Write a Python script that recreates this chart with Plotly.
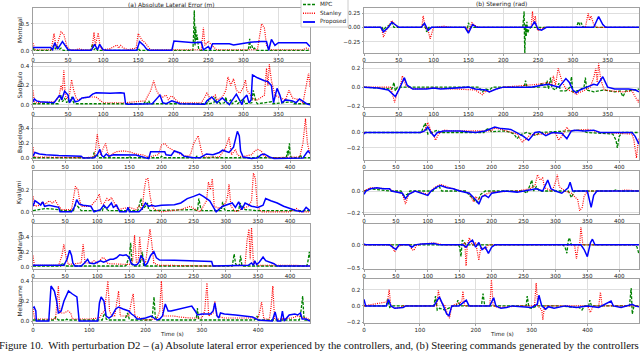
import plotly.graph_objects as go

# ---------------- data: (time s, value) samples ----------------
TRACKS = ["Montreal", "SaoPaulo", "Barcelona", "Kyalami", "YasMarina", "Melbourne"]
SERIES = ["MPC", "Stanley", "Proposed"]

# Montreal
MON_ERR_MPC = [(0,.05),(2,.01),(25,.01),(28,.06),(30,.1),(32,.03),(35,.08),(37,.02),(40,.05),(43,.01),(82,.01),(85,.13),(87,.02),(90,.06),(92,.01),(148,.01),(150,.05),(152,.01),(228,.01),(229,.3),(230,.75),(231,.1),(232,.45),(233,.2),(234,.3),(236,.05),(238,.01),(307,.01),(309,.22),(310,.05),(312,.1),(314,.03),(316,.05),(318,.01),(395,.01)]
MON_ERR_STAN = [(0,.14),(3,.02),(26,.02),(30,.32),(33,.05),(37,.2),(40,.35),(44,.3),(48,.1),(52,.02),(62,.02),(65,.04),(70,.02),(84,.02),(87,.34),(89,.1),(93,.33),(96,.05),(100,.02),(110,.04),(115,.08),(120,.11),(122,.05),(125,.1),(128,.06),(135,.02),(147,.05),(150,.32),(155,.2),(160,.15),(165,.06),(168,.02),(240,.02),(243,.43),(245,.1),(250,.18),(255,.1),(262,.02),(320,.02),(323,.3),(326,.5),(330,.42),(333,.1),(336,.05),(340,.02),(385,.02),(390,.05),(395,.02)]
MON_ERR_PROP = [(0,.06),(25,.06),(28,.02),(31,.15),(35,.03),(42,.17),(50,.02),(55,.01),(83,.01),(88,.12),(92,.02),(95,.12),(100,.02),(105,.01),(148,.01),(152,.17),(158,.1),(162,.03),(166,.01),(198,.01),(201,.18),(215,.17),(230,.15),(240,.16),(243,.02),(250,.08),(253,.02),(256,.13),(280,.13),(286,.11),(300,.14),(310,.16),(325,.17),(333,.17),(336,.01),(340,.21),(345,.1),(350,.15),(390,.15),(395,.08)]
MON_STR_MPC = [(0,0),(26,0),(28,-.05),(31,0),(38,.05),(40,.08),(43,0),(83,0),(85,.06),(88,0),(90,-.08),(93,0),(146,0),(148,-.06),(150,.08),(153,0),(228,0),(229,.1),(230,.28),(230.5,-.2),(231,-.47),(232,.05),(233,-.15),(234,.1),(235,-.1),(237,-.03),(240,0),(305,0),(307,.08),(308,.1),(310,.04),(312,.08),(314,.02),(316,0),(395,0)]
MON_STR_STAN = [(0,0),(25,0),(28,-.17),(32,-.05),(40,.12),(46,.03),(50,0),(83,0),(85,.2),(88,0),(92,-.05),(95,-.2),(100,0),(115,.02),(125,0),(147,0),(150,-.08),(155,.08),(160,.03),(165,0),(240,0),(242,.28),(244,.05),(246,.2),(248,-.02),(250,-.06),(255,-.02),(260,0),(318,0),(322,.25),(324,.12),(326,.2),(330,.05),(335,0),(395,0)]
MON_STR_PROP = [(0,0),(24,0),(28,-.08),(35,0),(40,.09),(45,.05),(50,0),(82,0),(87,.07),(92,-.05),(97,0),(145,0),(150,-.1),(156,.05),(162,0),(240,0),(245,.1),(250,-.03),(255,-.05),(262,0),(330,0),(337,.19),(343,.05),(347,0),(395,0)]

# SaoPaulo
SAO_ERR_MPC = [(0,.01),(36,.01),(40,.1),(42,.03),(45,.07),(48,.02),(50,.05),(53,.02),(55,.08),(58,.02),(60,.01),(158,.01),(160,.03),(163,.01),(165,.04),(167,.01),(248,.01),(250,.05),(252,.01),(258,.02),(260,.08),(262,.01),(265,.04),(267,.01),(273,.02),(275,.08),(277,.01),(282,.05),(284,.01),(290,.04),(292,.01),(300,.06),(302,.01),(312,.02),(314,.15),(316,.1),(318,.03),(320,.01),(340,.03),(342,.01),(370,.03),(372,.01),(395,.01)]
SAO_ERR_STAN = [(0,.15),(2,.03),(5,.02),(30,.03),(37,.08),(40,.2),(42,.15),(44,.36),(46,.1),(48,.06),(52,.1),(55,.26),(58,.15),(62,.06),(65,.05),(70,.07),(80,.08),(90,.08),(95,.05),(100,.02),(130,.02),(160,.04),(168,.15),(172,.25),(176,.15),(180,.1),(185,.08),(190,.1),(193,.05),(197,.09),(200,.08),(205,.04),(210,.02),(240,.02),(245,.08),(248,.12),(253,.06),(260,.1),(262,.05),(270,.08),(275,.15),(278,.29),(282,.2),(286,.27),(290,.15),(295,.12),(300,.18),(303,.26),(305,.15),(310,.1),(315,.05),(320,.05),(330,.1),(333,.38),(335,.2),(337,.42),(340,.25),(345,.1),(350,.08),(360,.05),(365,.15),(370,.07),(380,.05),(385,.02),(390,.22),(393,.33),(395,.18)]
SAO_ERR_PROP = [(0,.03),(2,.06),(5,.04),(10,.03),(30,.02),(38,.1),(41,.05),(45,.14),(50,.1),(52,.02),(57,.08),(60,.03),(65,.04),(70,.07),(80,.08),(85,.11),(90,.125),(110,.12),(125,.125),(130,.12),(132,.01),(135,.005),(170,.01),(175,.05),(181,.1),(185,.02),(190,.01),(198,.04),(205,.02),(210,.01),(245,.005),(248,.04),(255,.08),(262,.02),(270,.07),(275,.03),(280,0),(290,.11),(295,.04),(298,0),(300,.06),(305,.1),(308,.02),(311,.05),(313,.31),(320,.28),(330,.25),(335,.24),(340,.2),(343,.02),(348,.17),(352,.1),(355,.02),(360,.05),(370,.04),(375,.02),(380,.06),(385,.03),(390,.01),(395,0)]
SAO_STR_MPC = [(0,0),(40,-.02),(43,.05),(45,-.04),(48,0),(165,0),(170,-.05),(175,-.02),(180,-.03),(185,0),(230,0),(232,.07),(234,0),(253,0),(255,.05),(257,0),(261,0),(263,.07),(265,-.02),(268,.1),(270,-.01),(275,-.03),(280,.04),(282,-.04),(290,-.04),(296,0),(298,.11),(300,-.05),(310,-.03),(316,0),(318,.1),(320,-.03),(330,-.05),(345,-.03),(360,-.05),(368,-.04),(372,-.1),(376,-.04),(380,-.04),(395,-.02)]
SAO_STR_STAN = [(0,0),(38,0),(40,-.05),(44,-.16),(48,-.05),(52,0),(55,.12),(60,.02),(70,-.02),(100,-.01),(160,-.03),(170,-.08),(175,-.04),(180,-.05),(190,-.02),(200,0),(250,.03),(265,.05),(270,.02),(272,.12),(275,.02),(279,.2),(282,.12),(285,.05),(290,-.02),(300,-.05),(305,-.08),(308,-.06),(315,-.04),(325,0),(330,.1),(333,.2),(335,.05),(337,.25),(340,.08),(345,-.03),(355,-.04),(370,-.05),(385,-.04),(390,-.1),(394,-.16),(395,-.12)]
SAO_STR_PROP = [(0,0),(20,-.01),(35,-.03),(45,-.1),(50,-.03),(55,.05),(58,.1),(62,.02),(70,-.02),(90,-.02),(100,-.01),(110,-.02),(150,0),(160,-.02),(175,-.03),(180,-.05),(190,-.02),(200,0),(240,0),(255,.02),(265,.03),(280,0),(290,.09),(295,.05),(300,-.03),(305,-.06),(310,-.03),(320,0),(330,.03),(335,.02),(343,.11),(350,0),(360,-.02),(380,-.02),(390,-.03),(395,-.05)]

# Barcelona
BAR_ERR_MPC = [(0,.01),(93,.01),(95,.08),(97,.02),(100,.05),(102,.01),(148,.01),(150,.03),(152,.01),(198,.01),(200,.03),(202,.01),(253,.01),(255,.03),(257,.01),(278,.01),(280,.02),(282,.01),(348,.01),(350,.03),(352,.01),(394,.01),(396,.1),(397,.04),(399,.2),(400,.05),(402,.01),(414,.01),(416,.05),(418,.01),(431,.01)]
BAR_ERR_STAN = [(0,.15),(2,.02),(80,.01),(95,.02),(97,.1),(100,.32),(102,.2),(105,.05),(110,.15),(113,.2),(116,.08),(120,.03),(125,.07),(130,.09),(140,.1),(150,.09),(160,.06),(170,.05),(180,.02),(195,.05),(200,.18),(205,.2),(210,.15),(215,.12),(220,.1),(225,.08),(230,.05),(240,.03),(245,.05),(250,.2),(257,.3),(262,.1),(265,.02),(290,.02),(300,.15),(305,.28),(309,.05),(315,.12),(318,.05),(325,.02),(340,.05),(345,.1),(350,.12),(355,.1),(360,.03),(370,.01),(415,.02),(420,.2),(424,.53),(427,.2),(431,.05)]
BAR_ERR_PROP = [(0,.03),(3,.08),(10,.06),(20,.05),(40,.04),(60,.035),(75,.03),(78,.005),(95,.01),(100,.05),(104,.12),(107,.04),(110,.02),(114,.06),(118,.03),(125,.05),(140,.05),(160,.045),(175,.01),(180,0),(183,.09),(205,.09),(207,.05),(215,.04),(220,.1),(225,.08),(230,.07),(235,.03),(250,.01),(260,.01),(265,.04),(270,.06),(280,.05),(290,.08),(295,.11),(300,.1),(305,.08),(312,.15),(318,.36),(321,.3),(323,.1),(327,.02),(340,0),(350,.01),(355,.05),(360,.06),(368,.02),(375,0),(420,.005),(426,.08),(428,.1),(431,.07)]
BAR_STR_MPC = [(0,0),(90,0),(92,.05),(96,.12),(100,-.02),(105,0),(115,.03),(120,0),(188,0),(190,.03),(195,.05),(200,.01),(220,.02),(230,0),(235,-.02),(240,-.08),(245,-.03),(255,0),(270,-.04),(275,0),(300,.01),(340,.03),(350,0),(390,-.02),(395,-.1),(397,-.2),(400,-.05),(405,0),(431,0)]
BAR_STR_STAN = [(0,0),(92,0),(95,.03),(100,.13),(105,.02),(110,-.05),(112,-.1),(117,-.02),(125,.03),(140,.02),(200,.02),(205,.06),(215,.04),(230,0),(240,-.02),(248,-.12),(255,-.08),(260,-.03),(280,-.02),(300,0),(305,-.1),(310,-.05),(318,.07),(322,.02),(345,.03),(350,.04),(370,0),(420,-.02),(423,-.1),(427,-.33),(430,-.1),(431,-.08)]
BAR_STR_PROP = [(0,-.02),(2,0),(88,0),(95,.02),(100,.07),(105,0),(110,-.05),(115,0),(125,.02),(150,.02),(175,0),(190,.02),(205,.07),(215,.05),(230,.04),(240,0),(250,-.05),(258,-.1),(262,-.06),(268,0),(275,.01),(285,-.04),(295,0),(310,-.01),(318,-.08),(325,.02),(330,.03),(345,.02),(360,.03),(370,0),(420,0),(425,-.05),(431,-.15)]

# Kyalami
KYA_ERR_MPC = [(0,.01),(10,.02),(20,.03),(40,.02),(45,.01),(63,.01),(65,.06),(68,.06),(72,.03),(75,.01),(108,.01),(110,.05),(115,.02),(118,.01),(148,.01),(150,.02),(152,.01),(163,.01),(165,.05),(168,.12),(170,.02),(175,.05),(178,.08),(180,.02),(183,.01),(250,.02),(256,.01),(258,.12),(261,.03),(263,.01),(293,.01),(295,.09),(298,.02),(300,.01),(320,.01),(322,.08),(325,.05),(330,.02),(350,.01),(431,.01)]
KYA_ERR_STAN = [(0,.14),(3,.05),(10,.06),(15,.09),(20,.07),(25,.1),(30,.08),(35,.1),(40,.05),(45,.02),(60,.02),(63,.15),(66,.23),(70,.2),(72,.12),(75,.05),(85,.05),(90,.05),(100,.12),(103,.16),(106,.08),(110,.07),(115,.12),(118,.1),(122,.13),(126,.08),(132,.02),(140,.03),(150,.04),(160,.02),(165,.05),(170,.02),(173,.2),(176,.3),(179,.3),(182,.15),(185,.05),(190,.02),(200,0),(230,.02),(240,.04),(245,.05),(250,.03),(260,0),(270,.1),(273,.27),(276,.2),(279,.3),(282,.05),(290,.03),(300,.08),(303,.15),(305,.25),(308,.05),(315,0),(335,.05),(340,.1),(343,.35),(346,.3),(349,.05),(355,0),(400,0),(410,.03),(415,0),(431,0)]
KYA_ERR_PROP = [(0,.05),(3,.1),(8,.08),(12,.06),(15,.09),(18,.05),(25,.06),(35,.05),(40,.04),(42,0),(60,0),(65,.05),(68,.11),(72,.07),(78,.06),(90,.05),(95,0),(105,.02),(110,.06),(115,.03),(122,.08),(125,.04),(130,.06),(135,0),(145,0),(148,.04),(150,0),(165,0),(170,.03),(175,.08),(180,.05),(185,.06),(190,.05),(200,.06),(220,.065),(230,.08),(240,.12),(250,.14),(259,.16),(265,.14),(275,.1),(280,.05),(285,0),(295,.05),(305,.07),(310,.08),(315,.04),(320,.09),(325,.02),(330,.08),(340,.05),(350,.04),(358,.06),(362,.12),(370,.1),(380,.08),(390,.05),(400,.03),(410,.01),(420,0),(425,.04),(431,.01)]
KYA_STR_MPC = [(0,0),(10,.02),(40,0),(58,0),(62,-.04),(68,-.03),(72,0),(108,0),(110,.02),(118,.04),(122,0),(160,0),(165,-.04),(170,-.06),(175,-.1),(178,-.1),(183,-.03),(190,0),(250,0),(255,-.02),(260,.05),(263,.1),(266,0),(270,.04),(275,0),(280,0),(320,0),(322,-.02),(325,-.06),(330,0),(390,0),(395,.01),(400,0),(431,0)]
KYA_STR_STAN = [(0,0),(10,.03),(40,.02),(45,0),(60,-.02),(65,-.12),(70,-.03),(80,0),(100,-.03),(110,.03),(120,.06),(140,.02),(165,-.02),(172,-.1),(175,-.05),(180,-.08),(185,-.05),(190,-.03),(200,-.01),(240,0),(260,.02),(268,.05),(272,.15),(276,.1),(280,.12),(283,.03),(295,0),(300,.08),(303,.15),(306,.04),(315,0),(325,-.02),(330,-.05),(335,-.08),(338,-.18),(342,-.15),(345,-.05),(350,0),(400,0),(410,.01),(431,0)]
KYA_STR_PROP = [(0,-.03),(3,0),(10,.02),(20,.03),(30,.02),(40,.02),(43,0),(60,-.02),(65,-.07),(70,-.03),(80,0),(95,-.03),(100,-.04),(105,0),(115,.04),(120,.05),(130,.03),(140,.02),(150,0),(165,-.02),(175,-.08),(180,-.12),(185,-.05),(190,-.04),(195,-.06),(200,-.02),(220,0),(240,-.01),(250,0),(260,.01),(270,.02),(280,0),(288,.1),(293,.02),(300,0),(310,-.02),(320,.03),(323,.08),(327,0),(350,0),(356,-.15),(360,-.04),(365,0),(431,0)]

# YasMarina
YAS_ERR_MPC = [(0,.01),(43,.01),(45,.05),(48,.03),(50,.01),(143,.01),(145,.02),(150,.15),(152,.32),(154,.03),(156,.01),(166,.01),(168,.1),(170,.2),(172,.02),(174,.01),(310,.01),(313,.17),(315,.05),(317,.01),(321,.02),(323,.15),(325,.02),(327,.01),(426,.01),(428,.08),(430,.2),(431,.1)]
YAS_ERR_STAN = [(0,.15),(2,.02),(40,.02),(45,.15),(48,.3),(51,.15),(55,.03),(75,.05),(78,.3),(81,.05),(90,.05),(95,.08),(100,.05),(105,.1),(108,.12),(112,.11),(115,.05),(120,.04),(140,.04),(150,.03),(155,.08),(158,.42),(161,.05),(164,.1),(166,.4),(169,.1),(175,.05),(179,.35),(182,.5),(185,.3),(188,.05),(195,.02),(280,.01),(330,.02),(333,.35),(336,.5),(338,.1),(340,.52),(343,.05),(350,.02),(380,.02),(400,.03),(405,.02),(431,.01)]
YAS_ERR_PROP = [(0,.02),(10,.02),(40,.01),(48,.02),(53,.1),(57,.22),(60,.15),(62,.05),(65,.01),(75,.01),(80,.05),(85,.1),(88,.05),(95,.04),(100,.06),(105,.08),(110,.06),(115,.08),(120,.1),(125,.1),(130,.12),(135,.16),(140,.15),(145,.16),(150,.12),(153,.04),(158,.02),(162,.03),(165,.06),(168,.15),(172,.1),(174,.01),(178,.05),(183,.15),(188,.2),(192,.12),(197,.09),(220,.085),(250,.08),(270,.075),(278,.07),(280,.01),(290,.01),(335,.02),(340,.05),(343,.02),(345,.08),(348,.03),(352,.06),(358,.13),(362,.08),(370,.05),(375,.04),(380,.01),(431,.01)]
YAS_STR_MPC = [(0,0),(148,0),(150,-.05),(152,-.25),(154,.1),(156,.08),(160,0),(312,0),(315,-.05),(318,-.18),(320,.08),(322,.15),(325,0),(425,0),(428,-.05),(431,-.2)]
YAS_STR_STAN = [(0,0),(43,0),(45,-.05),(48,-.15),(52,-.05),(60,0),(72,0),(75,-.1),(78,-.12),(82,-.02),(90,.02),(110,.04),(118,.02),(125,0),(155,0),(158,.05),(160,-.45),(162,0),(165,.15),(168,.05),(172,-.02),(175,.05),(180,-.33),(183,-.05),(190,-.1),(195,0),(330,0),(333,-.3),(336,0),(338,0),(340,.38),(343,0),(431,0)]
YAS_STR_PROP = [(0,.02),(3,0),(40,0),(45,-.05),(50,-.1),(55,0),(70,0),(75,-.05),(80,0),(90,.02),(110,.03),(118,0),(155,0),(160,-.05),(165,.05),(170,.1),(175,-.05),(180,.05),(185,-.1),(190,-.05),(195,-.18),(200,-.05),(205,0),(340,0),(345,-.1),(350,-.25),(355,.05),(358,.12),(362,0),(431,0)]

# Melbourne
MEL_ERR_MPC = [(0,.01),(38,.01),(40,.04),(43,.02),(45,.01),(58,.01),(60,.02),(62,.01),(123,.01),(125,.05),(128,.08),(130,.02),(133,.01),(163,.01),(165,.04),(168,.08),(171,.02),(174,.01),(210,.01),(212,.05),(215,.24),(217,.05),(220,.01),(288,.01),(290,.02),(292,.13),(294,.02),(296,.01),(393,.01),(395,.02),(398,.05),(400,.01),(473,.01),(475,.05),(479,.25),(481,.05),(483,.01),(492,.01)]
MEL_ERR_STAN = [(0,.12),(3,.02),(40,.02),(42,.15),(45,.35),(48,.08),(55,.08),(62,.1),(67,.08),(70,.02),(100,.02),(118,.03),(123,.08),(127,.1),(130,.25),(133,.4),(136,.1),(140,.05),(145,.05),(150,.2),(152,.3),(155,.05),(170,.05),(175,.2),(178,.27),(181,.05),(200,.01),(220,.02),(225,.1),(228,.4),(231,.05),(240,.05),(250,.05),(260,.04),(280,.03),(300,.03),(305,.1),(309,.38),(312,.05),(320,.08),(323,.2),(326,.05),(340,.03),(360,.03),(380,.03),(400,.03),(403,.1),(406,.19),(410,.02),(420,.02),(423,.15),(426,.35),(429,.02),(440,.02),(460,.03),(470,.05),(475,.04),(485,.03),(492,.01)]
MEL_ERR_PROP = [(0,.13),(2,.14),(5,.1),(6,0),(28,0),(32,.35),(38,.3),(42,.2),(45,.08),(50,.1),(55,.2),(60,.26),(63,.3),(70,.27),(78,.24),(82,0),(115,0),(118,.18),(121,.24),(126,.2),(130,.05),(135,.03),(140,.05),(147,.12),(152,.14),(160,.12),(170,.1),(175,.07),(180,.05),(185,.02),(190,.02),(200,.03),(210,.05),(215,.03),(220,.01),(225,.02),(230,.05),(235,.17),(240,.1),(245,.1),(260,.12),(275,.14),(282,.15),(288,.1),(292,.06),(300,.07),(315,.07),(320,.1),(323,.18),(327,.05),(330,.03),(333,.08),(340,.07),(360,.06),(380,.05),(390,.04),(400,.01),(425,0),(430,.09),(434,0),(440,0),(443,.1),(446,0),(455,.06),(465,.07),(470,.06),(475,.08),(478,.02),(485,.02),(492,0)]
MEL_STR_MPC = [(0,0),(40,0),(42,.08),(46,-.02),(50,0),(125,0),(128,.12),(131,-.05),(135,-.03),(145,-.05),(160,0),(165,0),(168,.07),(172,0),(210,0),(213,.15),(216,0),(290,0),(292,.12),(295,-.02),(300,-.03),(310,0),(345,0),(385,-.02),(390,-.05),(395,0),(402,0),(404,.07),(407,0),(475,0),(478,.22),(480,-.1),(483,0),(492,0)]
MEL_STR_STAN = [(0,0),(42,.05),(45,.2),(48,0),(55,-.03),(65,-.02),(70,0),(130,0),(133,.19),(137,.05),(145,0),(150,-.12),(153,-.15),(157,0),(175,.05),(177,.18),(180,0),(225,0),(228,.32),(231,0),(240,-.02),(280,0),(305,0),(308,.28),(311,0),(318,-.05),(320,-.17),(323,0),(400,0),(405,-.08),(410,0),(420,0),(423,.17),(426,0),(492,0)]
MEL_STR_PROP = [(0,.08),(3,0),(40,0),(44,.08),(48,0),(55,-.03),(70,-.02),(75,0),(125,0),(130,.05),(135,.11),(142,0),(148,-.1),(152,-.12),(157,0),(170,0),(180,.05),(183,.07),(188,0),(225,0),(232,.1),(236,0),(245,-.03),(255,-.02),(265,0),(300,-.02),(310,.02),(313,.13),(318,0),(325,-.04),(330,-.01),(340,-.03),(360,0),(380,-.02),(400,0),(420,-.02),(442,.06),(446,0),(460,-.02),(480,.02),(485,0),(492,-.01)]

ERR_DATA = [
    (MON_ERR_MPC, MON_ERR_STAN, MON_ERR_PROP),
    (SAO_ERR_MPC, SAO_ERR_STAN, SAO_ERR_PROP),
    (BAR_ERR_MPC, BAR_ERR_STAN, BAR_ERR_PROP),
    (KYA_ERR_MPC, KYA_ERR_STAN, KYA_ERR_PROP),
    (YAS_ERR_MPC, YAS_ERR_STAN, YAS_ERR_PROP),
    (MEL_ERR_MPC, MEL_ERR_STAN, MEL_ERR_PROP),
]
STR_DATA = [
    (MON_STR_MPC, MON_STR_STAN, MON_STR_PROP),
    (SAO_STR_MPC, SAO_STR_STAN, SAO_STR_PROP),
    (BAR_STR_MPC, BAR_STR_STAN, BAR_STR_PROP),
    (KYA_STR_MPC, KYA_STR_STAN, KYA_STR_PROP),
    (YAS_STR_MPC, YAS_STR_STAN, YAS_STR_PROP),
    (MEL_STR_MPC, MEL_STR_STAN, MEL_STR_PROP),
]

# axis limits / ticks per track
X_MAX = [395, 395, 431, 431, 431, 492]
X_DTICK = [50, 50, 50, 50, 50, 100]
ERR_RANGE = [[-0.04, 0.79], [-0.024, 0.434], [-0.02, 0.55], [-0.02, 0.37], [-0.03, 0.57], [-0.02, 0.42]]
ERR_TICKS = [[0, 0.5], [0, 0.2, 0.4], [0, 0.2, 0.4], [0, 0.2], [0, 0.2, 0.4], [0, 0.2, 0.4]]
STR_RANGE = [[-0.45, 0.34], [-0.21, 0.255], [-0.355, 0.2], [-0.21, 0.183], [-0.515, 0.445], [-0.21, 0.33]]
STR_TICKS = [[-0.25, 0, 0.25], [-0.2, 0, 0.2], [-0.2, 0], [-0.2, 0], [-0.5, 0], [-0.2, 0, 0.2]]
STR_FMT = [".2f", ".1f", ".1f", ".1f", ".1f", ".1f"]

CAPTION = ("Figure 10.  With perturbation D2 \u2013 (a) Absolute lateral error experienced by the "
           "controllers, and, (b) Steering commands generated by the controllers")

# ---------------- styling ----------------
W, H = 640, 351
COLORS = ["#008000", "#ff0000", "#0000ff"]
DASHES = ["3px,1.5px", "1px,1.2px", "solid"]
WIDTHS = [1.3, 1.2, 1.5]
FONT = "DejaVu Sans"
TICK_FONT = dict(family=FONT, size=5.6, color="#222")
LABEL_FONT = dict(family=FONT, size=5.9, color="#222")

ROW_TOP = [8, 63, 117, 171, 224, 279]
ROW_BOT = [53, 107, 160, 214, 269, 323]
COL_X = [(33, 310), (364, 639)]


def xy(pairs):
    return [p[0] for p in pairs], [p[1] for p in pairs]


fig = go.Figure()
layout = {}
annotations = []

for r in range(6):
    for c in range(2):
        n = 2 * r + c + 1
        sfx = "" if n == 1 else str(n)
        data = ERR_DATA[r] if c == 0 else STR_DATA[r]
        for s in range(3):
            tx, vy = xy(data[s])
            fig.add_trace(go.Scatter(
                x=tx, y=vy, mode="lines", name=SERIES[s], showlegend=False,
                line=dict(color=COLORS[s], width=WIDTHS[s], dash=DASHES[s]),
                xaxis="x" + sfx, yaxis="y" + sfx, hoverinfo="skip",
            ))

        x0, x1 = COL_X[c]
        axis_common = dict(
            showline=True, mirror=True, linecolor="#a0a0a0", linewidth=1,
            showgrid=True, gridcolor="#dedede", gridwidth=1, zeroline=False,
            ticks="outside", ticklen=1.5, tickcolor="#a0a0a0", tickfont=TICK_FONT,
            automargin=False,
        )
        layout["xaxis" + sfx] = dict(axis_common, domain=[x0 / W, x1 / W], anchor="y" + sfx,
                                     range=[0, X_MAX[r]], tick0=0, dtick=X_DTICK[r])
        ya = dict(axis_common, domain=[1 - ROW_BOT[r] / H, 1 - ROW_TOP[r] / H], anchor="x" + sfx)
        if c == 0:
            ya.update(range=ERR_RANGE[r], tickvals=ERR_TICKS[r], tickformat=".1f")
        else:
            ya.update(range=STR_RANGE[r], tickvals=STR_TICKS[r], tickformat=STR_FMT[r])
        layout["yaxis" + sfx] = ya

    # track name on the left of each row
    annotations.append(dict(text=TRACKS[r], x=19.5 / W, y=1 - (ROW_TOP[r] + ROW_BOT[r]) / 2 / H,
                            xref="paper", yref="paper", showarrow=False, textangle=-90,
                            xanchor="center", yanchor="middle", font=LABEL_FONT))

# x titles under the bottom row, column titles on top
for c in range(2):
    xc = (COL_X[c][0] + COL_X[c][1]) / 2 / W
    annotations.append(dict(text="Time (s)", x=xc, y=1 - 334 / H, xref="paper", yref="paper",
                            showarrow=False, xanchor="center", yanchor="middle", font=TICK_FONT))
annotations.append(dict(text="(a) Absolute Lateral Error (m)", x=(COL_X[0][0] + COL_X[0][1]) / 2 / W,
                        y=1 - 5 / H, xref="paper", yref="paper", showarrow=False,
                        font=LABEL_FONT, xanchor="center", yanchor="middle"))
annotations.append(dict(text="(b) Steering (rad)", x=(COL_X[1][0] + COL_X[1][1]) / 2 / W,
                        y=1 - 5 / H, xref="paper", yref="paper", showarrow=False,
                        font=LABEL_FONT, xanchor="center", yanchor="middle"))
annotations.append(dict(text=CAPTION, x=-3 / W, y=1 - 345 / H, xref="paper", yref="paper",
                        showarrow=False, xanchor="left", yanchor="middle",
                        font=dict(family="Liberation Serif", size=10.75, color="#111")))

# hand-drawn legend box (matplotlib style, between the two columns)
shapes = [dict(type="rect", xref="paper", yref="paper", x0=301 / W, x1=348 / W,
               y0=1 - 27 / H, y1=1 + 1 / H, line=dict(color="#cccccc", width=1),
               fillcolor="white", layer="above")]
for s, ypx in enumerate([4.5, 13.3, 22]):
    shapes.append(dict(type="line", xref="paper", yref="paper", x0=303 / W, x1=315 / W,
                       y0=1 - ypx / H, y1=1 - ypx / H, layer="above",
                       line=dict(color=COLORS[s], width=WIDTHS[s] + 0.3, dash=DASHES[s])))
    annotations.append(dict(text=SERIES[s], x=318 / W, y=1 - ypx / H, xref="paper", yref="paper",
                            showarrow=False, xanchor="left", yanchor="middle",
                            font=dict(family=FONT, size=5.7, color="#222")))

fig.update_layout(
    width=W, height=H, margin=dict(l=0, r=0, t=0, b=0),
    paper_bgcolor="white", plot_bgcolor="white",
    showlegend=False, annotations=annotations, shapes=shapes,
    **layout,
)

# the page's default body margin would push the figure off the 640x351 window
fig.write_html("out.html", config={"displayModeBar": False},
               post_script="document.body.style.margin='0';"
                           "document.body.style.overflow='hidden';")
